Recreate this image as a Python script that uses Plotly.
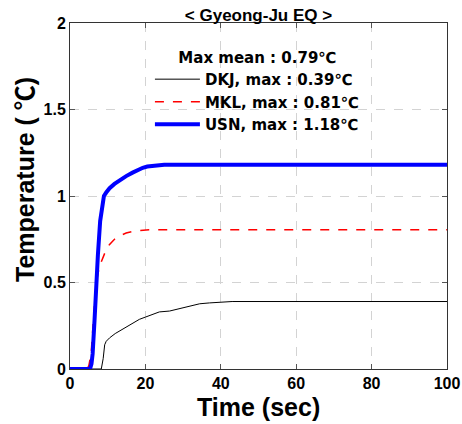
import plotly.graph_objects as go

# ---- data ----
t_dkj = [0, 8.3, 8.8, 9.2, 9.6, 10.5, 12, 14, 16, 18.4, 20, 22, 23.7, 26.4, 29, 31.7, 34.4, 37, 40, 43, 100]
v_dkj = [0, 0, 0.06, 0.14, 0.16, 0.18, 0.205, 0.23, 0.26, 0.287, 0.30, 0.315, 0.33, 0.335, 0.35, 0.364, 0.377, 0.382, 0.387, 0.39, 0.39]

t_mkl = [0, 4.6, 5.0, 5.6, 6.2, 6.95, 7.6, 8.3, 9.6, 10.5, 11.8, 13.2, 14.9, 16.5, 18.4, 21, 100]
v_mkl = [0, 0, 0.02, 0.087, 0.28, 0.5, 0.57, 0.62, 0.69, 0.72, 0.75, 0.77, 0.786, 0.795, 0.80, 0.805, 0.805]

t_usn = [0, 5.3, 5.7, 6.0, 6.5, 6.95, 7.4, 8.0, 8.5, 9.0, 9.6, 10.5, 11.8, 13.3, 14.9, 16.6, 18.0, 19.3, 20.5, 22, 25, 100]
v_usn = [0, 0, 0.03, 0.087, 0.28, 0.5, 0.66, 0.855, 0.95, 1.0, 1.02, 1.045, 1.07, 1.095, 1.115, 1.135, 1.15, 1.163, 1.17, 1.175, 1.18, 1.18]

names = ["DKJ, max : 0.39℃", "MKL, max : 0.81℃", "USN, max : 1.18℃"]
legend_title = "Max mean : 0.79℃"
chart_title = "&lt; Gyeong-Ju EQ &gt;"
x_label = "Time (sec)"
y_label = "Temperature ( ℃)"
x_ticks = [0, 20, 40, 60, 80, 100]
y_ticks = [0, 0.5, 1, 1.5, 2]
y_ticktext = ["0", "0.5", "1", "1.5", "2"]

FONT = "Liberation Sans, Arial, Noto Sans CJK KR, sans-serif"
LFONT = "DejaVu Sans, Liberation Sans, sans-serif"

W, H = 462, 424
ML, MR, MT, MB = 70, 15, 23, 55
PW, PH = W - ML - MR, H - MT - MB

fig = go.Figure()
fig.add_trace(go.Scatter(x=t_dkj, y=v_dkj, mode="lines", name=names[0],
                         line=dict(color="black", width=1)))
fig.add_trace(go.Scatter(x=t_mkl, y=v_mkl, mode="lines", name=names[1],
                         line=dict(color="#ff0000", width=1.5, dash="dash")))
fig.add_trace(go.Scatter(x=t_usn, y=v_usn, mode="lines", name=names[2],
                         line=dict(color="#0000ff", width=4)))

axis_common = dict(
    showgrid=True, gridcolor="#d3d3d3", griddash="dash", gridwidth=1,
    showline=True, linecolor="#333333", linewidth=1, mirror="ticks",
    ticks="inside", ticklen=5, tickcolor="#555555",
    tickfont=dict(family=FONT, size=16, color="black", weight="bold"),
    zeroline=False, automargin=False,
)

fig.update_layout(
    width=W, height=H,
    margin=dict(l=ML, r=MR, t=MT, b=MB, autoexpand=False),
    paper_bgcolor="white", plot_bgcolor="white",
    title=dict(text=chart_title, x=0.5, xref="paper", xanchor="center",
               y=1 - 15 / H, yref="container", yanchor="middle",
               font=dict(family=FONT, size=17, color="black", weight="bold")),
    xaxis=dict(range=[0, 100], tickvals=x_ticks, **axis_common),
    yaxis=dict(range=[0, 2], tickvals=y_ticks, ticktext=y_ticktext, **axis_common),
    legend=dict(x=0.212, xanchor="left", y=0.941, yanchor="top",
                bgcolor="rgba(0,0,0,0)", borderwidth=0,
                title=dict(text=legend_title, side="top center",
                           font=dict(family=LFONT, size=15, color="black", weight="bold")),
                font=dict(family=LFONT, size=15, color="black", weight="bold"),
                tracegroupgap=0, itemwidth=45),
    showlegend=True,
    annotations=[
        dict(text=x_label, xref="paper", yref="paper", x=(258.5 - ML) / PW,
             y=-(407 - (MT + PH)) / PH, xanchor="center", yanchor="middle",
             showarrow=False,
             font=dict(family=FONT, size=25, color="black", weight="bold")),
        dict(text=y_label, xref="paper", yref="paper", x=-(ML - 25) / PW,
             y=(MT + PH - 180) / PH, xanchor="center", yanchor="middle",
             textangle=-90, showarrow=False,
             font=dict(family=FONT, size=25, color="black", weight="bold")),
    ],
)

fig.write_html("out.html", config={"displayModeBar": False},
               post_script="document.body.style.margin='0';document.body.style.overflow='hidden';")
